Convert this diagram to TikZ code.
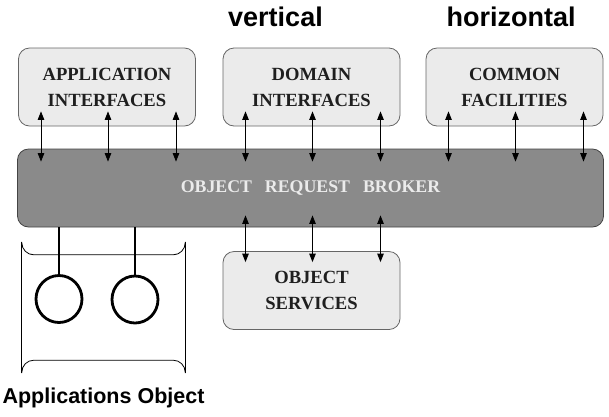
\documentclass[tikz,border=0pt]{standalone}
\usepackage{fontspec}
\setmainfont{Liberation Serif}
\setsansfont{Liberation Sans}
\usetikzlibrary{arrows.meta,positioning,calc,shapes.geometric}
\definecolor{boxfill}{HTML}{EBEBEB}
\definecolor{boxline}{HTML}{666666}
\definecolor{orbfill}{HTML}{8A8A8A}
\definecolor{orbline}{HTML}{444444}
\tikzset{
  blk/.style={draw=boxline,fill=boxfill,rectangle,rounded corners=11pt,line width=0.8pt,align=center,text=black!88,font=\bfseries\fontsize{18.6}{26}\selectfont},
  ifblk/.style={blk,minimum width=177pt,minimum height=78pt},
  orbblk/.style={blk,fill=orbfill,draw=orbline,text=white!92!black,minimum width=586pt,minimum height=78pt,font=\bfseries\fontsize{17.8}{26}\selectfont},
  objcirc/.style={ellipse,draw,line width=2.8pt,minimum width=46pt,minimum height=47pt,inner sep=0pt},
  stem/.style={line width=2.8pt},
  arr/.style={{Triangle[length=8.5pt,width=6.5pt]}-{Triangle[length=8.5pt,width=6.5pt]},line width=0.8pt},
  ttl/.style={font=\sffamily\bfseries\fontsize{27}{32}\selectfont,anchor=base},
  lbl/.style={font=\sffamily\bfseries\fontsize{21.5}{26}\selectfont}
}
\begin{document}
\begin{tikzpicture}[x=1pt,y=-1pt]
  \useasboundingbox (0,0) rectangle (609,416);
  % Titles
  \node[ttl] (vert) at (275.5,26) {vertical};
  \node[ttl] (horiz) at (511,26) {horizontal};

  % Interface boxes
  \node[ifblk] (appif) at (107,87) {APPLICATION\\INTERFACES};
  \node[ifblk] (domif) at (311.5,87) {DOMAIN\\INTERFACES};
  \node[ifblk] (comfac) at (514.5,87) {COMMON\\FACILITIES};

  % Object Request Broker
  \node[orbblk] (orb) at (310.5,188) {OBJECT\hspace{13pt}REQUEST\hspace{13pt}BROKER};

  % Object Services
  \node[ifblk] (objsvc) at (311.5,290.5) {OBJECT\\SERVICES};

  % Interfaces <-> ORB
  \foreach \bx in {appif,domif,comfac} \foreach \dx in {-66,1,69}
    \draw[arr] ($(\bx.south)+(\dx,-15)$) -- ($(\bx.south |- orb.north)+(\dx,13)$);

  % ORB <-> Object Services
  \foreach \dx in {-66,1,69}
    \draw[arr] ($(objsvc.north |- orb.south)+(\dx,-12)$) -- ($(objsvc.north)+(\dx,11)$);

  % Applications object
  \node[minimum width=163pt,minimum height=131pt,inner sep=0pt] (appobj) at (103.5,307.5) {};
  \draw[line width=0.8pt] (appobj.north west) -- (appobj.south west);
  \draw[line width=0.8pt] (appobj.north east) -- (appobj.south east);
  \draw[line width=0.8pt,rounded corners=12pt] (appobj.north west) |- ($(appobj.north east)+(0,13)$) -- (appobj.north east);
  \draw[line width=0.8pt,rounded corners=12pt] (appobj.south west) |- ($(appobj.south east)+(0,-13)$) -- (appobj.south east);

  \node[objcirc] (obj1) at (59,299) {};
  \node[objcirc] (obj2) at (135,299.5) {};
  \draw[stem] (obj1.north |- orb.south) -- (obj1.north);
  \draw[stem] (obj2.north |- orb.south) -- (obj2.north);

  \node[lbl, below=11pt of appobj] (appobjlbl) {Applications Object};
\end{tikzpicture}
\end{document}
